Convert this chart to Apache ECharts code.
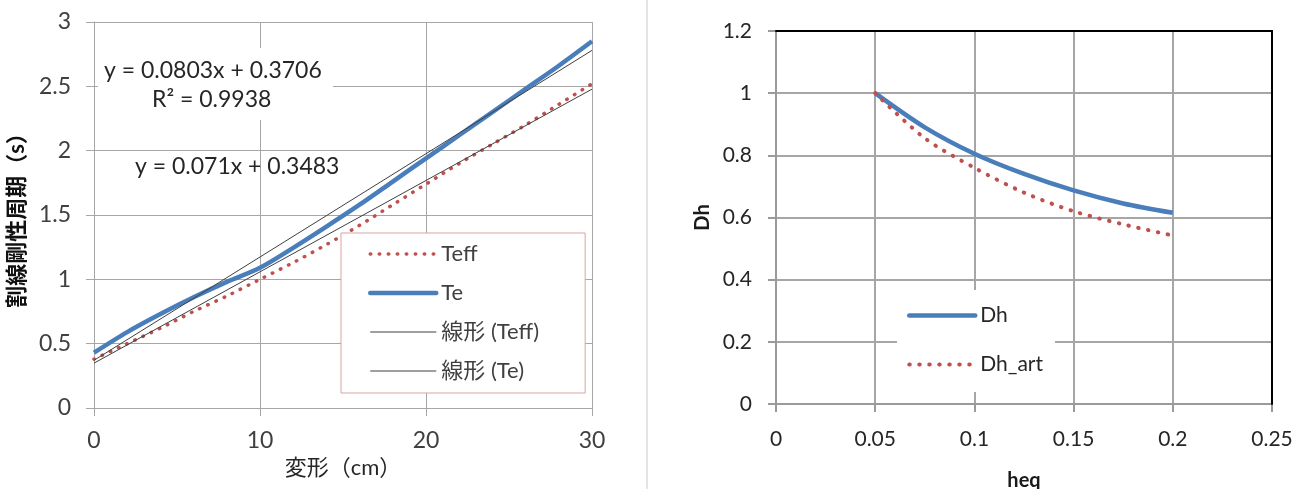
<!DOCTYPE html>
<html>
<head>
<meta charset="utf-8">
<script src="https://cdn.jsdelivr.net/npm/echarts@6/dist/echarts.min.js"></script>
<style>
    html, body { margin: 0; padding: 0; background: #fff; }
    #chart { width: 1315px; height: 489px; }
</style>
</head>
<body>
<div id="chart"></div>
<script>
// ============================================
// Data
// ============================================

// Left chart: deformation (cm) vs secant period (s)
const deform = [0, 2, 4, 6, 8, 10, 12, 14, 16, 18, 20, 22, 24, 26, 28, 30];
const teffVals = [0.38, 0.5, 0.62, 0.75, 0.87, 1.0, 1.13, 1.27, 1.42, 1.58, 1.74, 1.9, 2.05, 2.2, 2.36, 2.52];
const teVals = [0.43, 0.59, 0.73, 0.86, 0.98, 1.09, 1.245, 1.41, 1.58, 1.76, 1.94, 2.12, 2.3, 2.48, 2.66, 2.85];

// Trend line coefficients as printed on the chart: [slope, intercept]
const trendTeff = [0.071, 0.3483];
const trendTe = [0.0803, 0.3706];
const trendLabels = ['y = 0.0803x + 0.3706', 'R² = 0.9938', 'y = 0.071x + 0.3483'];

// Right chart: heq vs Dh
const heq = [0.05, 0.075, 0.1, 0.125, 0.15, 0.175, 0.2];
const dhVals = [1.0, 0.89, 0.805, 0.74, 0.687, 0.645, 0.615];
const dhArtVals = [1.0, 0.855, 0.76, 0.68, 0.62, 0.578, 0.542];

// ============================================
// Styles
// ============================================
const FONT = 'Lato, "Noto Sans CJK JP", sans-serif';
const BLUE = '#4a7ebb';
const RED = '#c0504d';
const TREND = '#404040';

const pairs = (xs, ys) => xs.map((x, i) => [x, ys[i]]);
const trendLine = (coef) => {
    const ends = [deform[0], deform[deform.length - 1]];
    return ends.map(x => [x, coef[0] * x + coef[1]]);
};

const leftDots = { color: RED, width: 3.5, type: [0.5, 8.5], cap: 'round' };
const rightDots = { color: RED, width: 4, type: [0.5, 9.5], cap: 'round' };
const noMarker = { opacity: 0 };

const chart = echarts.init(document.getElementById('chart'));

const option = {
    animation: false,
    backgroundColor: '#fff',
    textStyle: { fontFamily: FONT },
    grid: [
        { left: 94, top: 22, width: 498, height: 386, outerBoundsMode: 'none' },
        { left: 776, top: 31, width: 496, height: 373, outerBoundsMode: 'none' }
    ],
    xAxis: [
        {
            gridIndex: 0, type: 'value', min: 0, max: 30, interval: 10,
            name: '変形（cm）', nameLocation: 'middle', nameGap: 46,
            nameTextStyle: { fontSize: 22, color: '#262626', fontFamily: FONT },
            axisLine: { lineStyle: { color: '#a6a6a6', width: 1 } },
            axisTick: { length: 8, lineStyle: { color: '#a6a6a6' } },
            axisLabel: { fontSize: 23, color: '#404040', margin: 21, fontFamily: FONT },
            splitLine: { lineStyle: { color: '#a6a6a6', width: 1 } }
        },
        {
            gridIndex: 1, type: 'value', min: 0, max: 0.25, interval: 0.05,
            name: 'heq', nameLocation: 'middle', nameGap: 67,
            nameTextStyle: { fontSize: 20, fontWeight: 'bold', color: '#1a1a1a', fontFamily: FONT },
            axisLine: { lineStyle: { color: '#9a9a9a', width: 2 } },
            axisTick: { length: 8, lineStyle: { color: '#9a9a9a', width: 2 } },
            axisLabel: { fontSize: 21, color: '#262626', margin: 25, fontFamily: FONT },
            splitLine: { showMaxLine: false, lineStyle: { color: '#a6a6a6', width: 2 } }
        },
        {
            // black frame, top edge
            gridIndex: 1, type: 'value', position: 'top', min: 0, max: 0.25, z: 3,
            axisLine: { onZero: false, lineStyle: { color: '#000', width: 2 } },
            axisTick: { show: false }, axisLabel: { show: false }, splitLine: { show: false }
        }
    ],
    yAxis: [
        {
            gridIndex: 0, type: 'value', min: 0, max: 3, interval: 0.5,
            name: '割線剛性周期（s）', nameLocation: 'middle', nameGap: 66,
            nameTextStyle: { fontSize: 22, fontWeight: 'bold', color: '#111', fontFamily: FONT },
            axisLine: { show: true, lineStyle: { color: '#a6a6a6', width: 1 } },
            axisTick: { show: true, length: 8, lineStyle: { color: '#a6a6a6' } },
            axisLabel: { fontSize: 23, color: '#404040', margin: 23, fontFamily: FONT },
            splitLine: { lineStyle: { color: '#a6a6a6', width: 1 } }
        },
        {
            gridIndex: 1, type: 'value', min: 0, max: 1.2, interval: 0.2,
            name: 'Dh', nameLocation: 'middle', nameGap: 63,
            nameTextStyle: { fontSize: 20, fontWeight: 'bold', color: '#1a1a1a', fontFamily: FONT },
            axisLine: { show: true, lineStyle: { color: '#9a9a9a', width: 2 } },
            axisTick: { show: true, length: 8, lineStyle: { color: '#9a9a9a', width: 2 } },
            axisLabel: { fontSize: 21, color: '#262626', margin: 24, fontFamily: FONT },
            splitLine: { showMaxLine: false, lineStyle: { color: '#a6a6a6', width: 2 } }
        },
        {
            // black frame, right edge
            gridIndex: 1, type: 'value', position: 'right', min: 0, max: 1.2, z: 3,
            axisLine: { show: true, onZero: false, lineStyle: { color: '#000', width: 2 } },
            axisTick: { show: false }, axisLabel: { show: false }, splitLine: { show: false }
        }
    ],
    legend: [
        {
            left: 341, top: 233, orient: 'vertical',
            padding: [10, 46, 11, 27],
            itemWidth: 66, itemHeight: 14, itemGap: 17,
            backgroundColor: '#fff', borderColor: '#d9a3a2', borderWidth: 1,
            textStyle: { fontSize: 22, lineHeight: 22, color: '#404040', fontFamily: FONT },
            data: [
                { name: 'Teff', lineStyle: leftDots, itemStyle: noMarker },
                { name: 'Te', lineStyle: { color: BLUE, width: 4.5, cap: 'round' }, itemStyle: noMarker },
                { name: '線形 (Teff)', lineStyle: { color: '#7f7f7f', width: 1.5 }, itemStyle: noMarker },
                { name: '線形 (Te)', lineStyle: { color: '#7f7f7f', width: 1.5 }, itemStyle: noMarker }
            ]
        },
        {
            left: 897, top: 290, orient: 'vertical',
            padding: [15, 12, 17, 10],
            itemWidth: 66, itemHeight: 14, itemGap: 28,
            backgroundColor: '#fff',
            textStyle: { fontSize: 21, lineHeight: 20, color: '#262626', fontFamily: FONT },
            data: [
                { name: 'Dh', lineStyle: { color: BLUE, width: 4.5, cap: 'round' }, itemStyle: noMarker },
                { name: 'Dh_art', lineStyle: rightDots, itemStyle: noMarker }
            ]
        }
    ],
    graphic: [
        // divider between the two charts
        {
            type: 'line', z: 0,
            shape: { x1: 647, y1: 0, x2: 647, y2: 489 },
            style: { stroke: '#e4e4e4', lineWidth: 2 }
        },
        // trend equation labels
        {
            type: 'rect', z: 1,
            shape: { x: 98, y: 48, width: 235, height: 72 },
            style: { fill: '#fff' }
        },
        {
            type: 'text', z: 1, left: 104, top: 59,
            style: { text: trendLabels[0], font: '23px ' + FONT, fill: '#262626' }
        },
        {
            type: 'text', z: 1, left: 152, top: 88,
            style: { text: trendLabels[1], font: '23px ' + FONT, fill: '#262626' }
        },
        {
            type: 'text', z: 1, left: 135, top: 155,
            style: { text: trendLabels[2], font: '23px ' + FONT, fill: '#262626' }
        }
    ],
    series: [
        {
            name: 'Teff', type: 'line', xAxisIndex: 0, yAxisIndex: 0,
            data: pairs(deform, teffVals), smooth: 0.3, symbol: 'none',
            itemStyle: { color: RED }, lineStyle: leftDots
        },
        {
            name: 'Te', type: 'line', xAxisIndex: 0, yAxisIndex: 0,
            data: pairs(deform, teVals), smooth: 0.3, symbol: 'none',
            itemStyle: { color: BLUE }, lineStyle: { color: BLUE, width: 4.5 }
        },
        {
            name: '線形 (Teff)', type: 'line', xAxisIndex: 0, yAxisIndex: 0,
            data: trendLine(trendTeff), symbol: 'none',
            itemStyle: { color: TREND }, lineStyle: { color: TREND, width: 1 }
        },
        {
            name: '線形 (Te)', type: 'line', xAxisIndex: 0, yAxisIndex: 0,
            data: trendLine(trendTe), symbol: 'none',
            itemStyle: { color: TREND }, lineStyle: { color: TREND, width: 1 }
        },
        {
            name: 'Dh', type: 'line', xAxisIndex: 1, yAxisIndex: 1,
            data: pairs(heq, dhVals), smooth: 0.3, symbol: 'none',
            itemStyle: { color: BLUE }, lineStyle: { color: BLUE, width: 4.5 }
        },
        {
            name: 'Dh_art', type: 'line', xAxisIndex: 1, yAxisIndex: 1,
            data: pairs(heq, dhArtVals), smooth: 0.3, symbol: 'none',
            itemStyle: { color: RED }, lineStyle: rightDots
        }
    ]
};

chart.setOption(option);
</script>
</body>
</html>
